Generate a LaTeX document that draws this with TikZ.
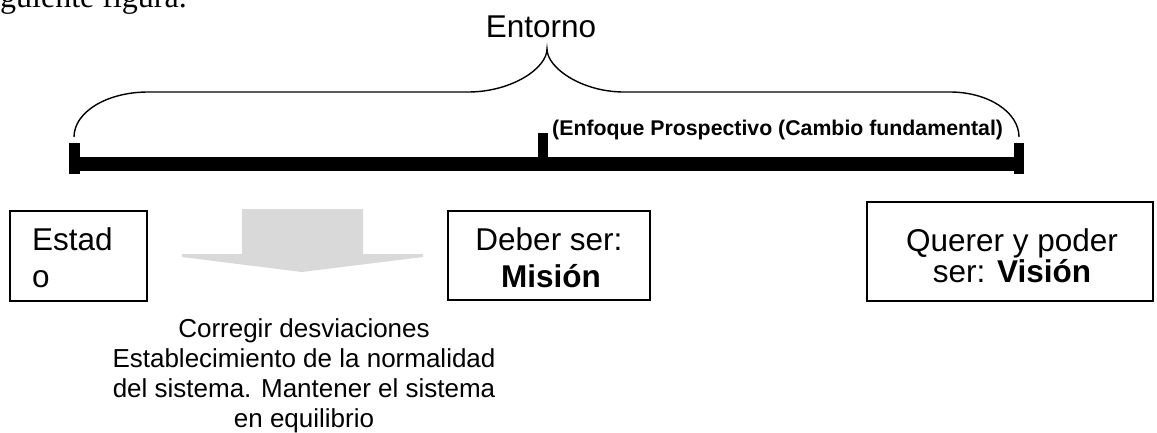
\documentclass[tikz,border=0pt]{standalone}
\usepackage{fontspec}
\setmainfont{Liberation Sans}
\newfontfamily\timesfont{Liberation Serif}
\definecolor{arrowgray}{RGB}{217,217,217}
\newcommand\bigfont{\fontsize{31.5}{37}\selectfont}
\newcommand\midfont{\fontsize{26}{30}\selectfont}
\newcommand\smallbold{\fontsize{21.3}{25}\selectfont\bfseries}
\begin{document}
\begin{tikzpicture}[x=1pt,y=-1pt,
  box/.style={draw, line width=1.3pt, inner sep=0pt},
  txt/.style={inner sep=0pt, anchor=base},
  txtl/.style={inner sep=0pt, anchor=base west},
  brace/.style={line width=1.4pt},
  barfill/.style={fill=black}]
\useasboundingbox (0,0) rectangle (1157,432);
\clip (0,0) rectangle (1157,432);

% fragment of surrounding text
\node[txtl, font=\timesfont\fontsize{32}{38}\selectfont] (frag) at (0,7) {guiente figura.};

% brace
\coordinate (bl) at (74,137);
\coordinate (br) at (1019,137);
\coordinate (cusp) at (547,49);
\draw[brace] (bl) .. controls (74,112) and (107,92) .. (148,92) -- (468,92)
  .. controls (512,92) and (547,68) .. (cusp)
  .. controls (547,68) and (582,92) .. (624,92) -- (950,92)
  .. controls (988,92) and (1019,112) .. (br);
\node[txt, font=\bigfont] (entorno) at (541,37) {Entorno};

% thick bar with ticks
\fill[barfill] (69,157) rectangle (1024,171);
\fill[barfill] (69,143) rectangle (80,174);
\fill[barfill] (1014,143) rectangle (1024,174);
\fill[barfill] (538,133) rectangle (548,160);
\node[txtl, font=\smallbold] (enfoque) at (552,135) {(Enfoque Prospectivo (Cambio fundamental)};

% boxes
\node[box, minimum width=137, minimum height=90] (estado) at (78.5,256) {};
\node[txtl, font=\bigfont] (estado1) at (32,250) {Estad};
\node[txtl, font=\bigfont] (estado2) at (32,287) {o};

\node[box, minimum width=202, minimum height=89] (deber) at (549,255.5) {};
\node[txt, font=\bigfont] (deber1) at (549,250) {Deber ser:};
\node[txt, font=\bigfont\bfseries] (deber2) at (551,287) {Misión};

\node[box, minimum width=286, minimum height=99] (querer) at (1010,251.5) {};
\node[txt, font=\bigfont] (querer1) at (1012,251) {Querer y poder};
\node[txt, font=\bigfont] (querer2) at (1012,282) {ser: \textbf{Visión}};

% block arrow
\fill[arrowgray] (242,209) -- (363,209) -- (363,254) -- (423,254) -- (423,257)
  -- (302,272) -- (182,257) -- (182,254) -- (242,254) -- cycle;

% explanation
\node[txt, font=\midfont] (c1) at (304,337) {Corregir desviaciones};
\node[txt, font=\midfont] (c2) at (304,367) {Establecimiento de la normalidad};
\node[txt, font=\midfont] (c3) at (304,397) {del sistema. Mantener el sistema};
\node[txt, font=\midfont] (c4) at (304,427) {en equilibrio};
\end{tikzpicture}
\end{document}
